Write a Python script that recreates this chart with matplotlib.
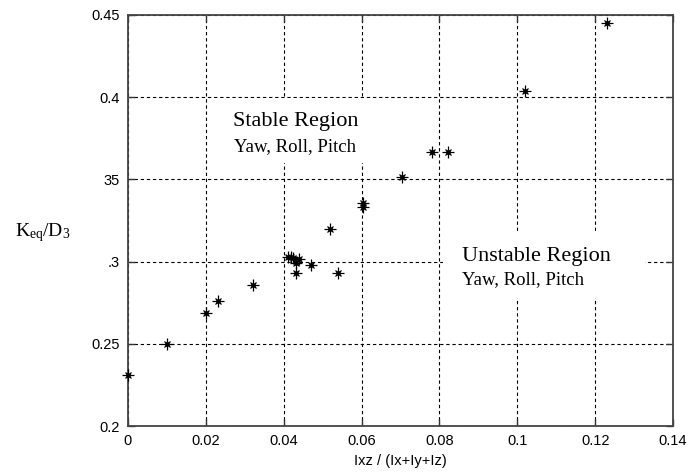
import matplotlib
matplotlib.use('Agg')
import matplotlib.pyplot as plt
import matplotlib.patches as patches

# Data
inertia_ratio = [0.0, 0.010, 0.020, 0.023, 0.032, 0.0412, 0.0418, 0.0425, 0.0440,
                 0.0432, 0.0432, 0.0470, 0.0520, 0.0540, 0.0603, 0.0603, 0.0703,
                 0.0780, 0.0821, 0.1020, 0.1230]
keq_d3 = [0.231, 0.250, 0.2686, 0.276, 0.286, 0.3030, 0.3025, 0.3022, 0.3016,
          0.2990, 0.2930, 0.2980, 0.3200, 0.2930, 0.3355, 0.3335, 0.3515,
          0.3665, 0.3665, 0.4035, 0.4450]

x_ticks = [0, 0.02, 0.04, 0.06, 0.08, 0.1, 0.12, 0.14]
x_tick_labels = ['0', '0.02', '0.04', '0.06', '0.08', '0.1', '0.12', '0.14']
y_ticks = [0.2, 0.25, 0.3, 0.35, 0.4, 0.45]
y_tick_labels = ['0.2', '0.25', '.3', '35', '0.4', '0.45']  # partly hidden in the original

plt.rcParams['font.family'] = ['Liberation Sans', 'DejaVu Sans']
plt.rcParams['mathtext.fontset'] = 'custom'
plt.rcParams['mathtext.rm'] = 'Liberation Serif'
plt.rcParams['mathtext.it'] = 'Liberation Serif:italic'

fig = plt.figure(figsize=(6.92, 4.74), dpi=100)
ax = fig.add_axes([128/692, 48/474, 545/692, 411/474])

# Grid like MATLAB's dotted grid
ax.grid(True, color='black', linestyle=(0, (3, 2.5)), linewidth=0.8)
ax.set_axisbelow(True)

# Asterisk markers: plus with a smaller cross on top, dark centre
ax.plot(inertia_ratio, keq_d3, linestyle='none', marker='+', markersize=8,
        markeredgewidth=0.9, color='black', zorder=3, clip_on=False)
ax.plot(inertia_ratio, keq_d3, linestyle='none', marker='x', markersize=5,
        markeredgewidth=0.9, color='black', zorder=3, clip_on=False)
ax.plot(inertia_ratio, keq_d3, linestyle='none', marker='o', markersize=2.5,
        color='black', zorder=3, clip_on=False)

ax.set_xlim(0, 0.14)
ax.set_ylim(0.2, 0.45)
ax.set_xticks(x_ticks)
ax.set_xticklabels(x_tick_labels)
ax.set_yticks(y_ticks)
ax.set_yticklabels(y_tick_labels)
ax.tick_params(direction='in', length=5, width=1.0, top=True, right=True,
               labelsize=10.5, color='#333333', pad=6)
for spine in ax.spines.values():
    spine.set_color('#444444')
    spine.set_linewidth(1.3)

ax.set_xlabel('Ixz / (Ix+Iy+Iz)', fontsize=10.5, labelpad=4)

# White boxes behind the region notes (they hide the grid in the original)
ax.add_patch(patches.Rectangle((0.0211, 0.360), 0.0462, 0.0395,
                               facecolor='white', edgecolor='none', zorder=2))
ax.add_patch(patches.Rectangle((0.0809, 0.278), 0.0519, 0.0394,
                               facecolor='white', edgecolor='none', zorder=2))

ax.text(0.0269, 0.3855, 'Stable Region', family='Liberation Serif',
        fontsize=16, va='center', ha='left', zorder=4)
ax.text(0.0273, 0.3699, 'Yaw, Roll, Pitch', family='Liberation Serif',
        fontsize=13.5, va='center', ha='left', zorder=4)
ax.text(0.0857, 0.3030, 'Unstable Region', family='Liberation Serif',
        fontsize=16, va='center', ha='left', zorder=4)
ax.text(0.0858, 0.2888, 'Yaw, Roll, Pitch', family='Liberation Serif',
        fontsize=13.5, va='center', ha='left', zorder=4)

# y label, horizontal like the original
fig.text(15/692, 1 - 233/474, r'K$_{\rm eq}$/D$_{\rm 3}$', family='Liberation Serif',
         fontsize=14, va='center', ha='left')

plt.savefig('out.png', dpi=100)
